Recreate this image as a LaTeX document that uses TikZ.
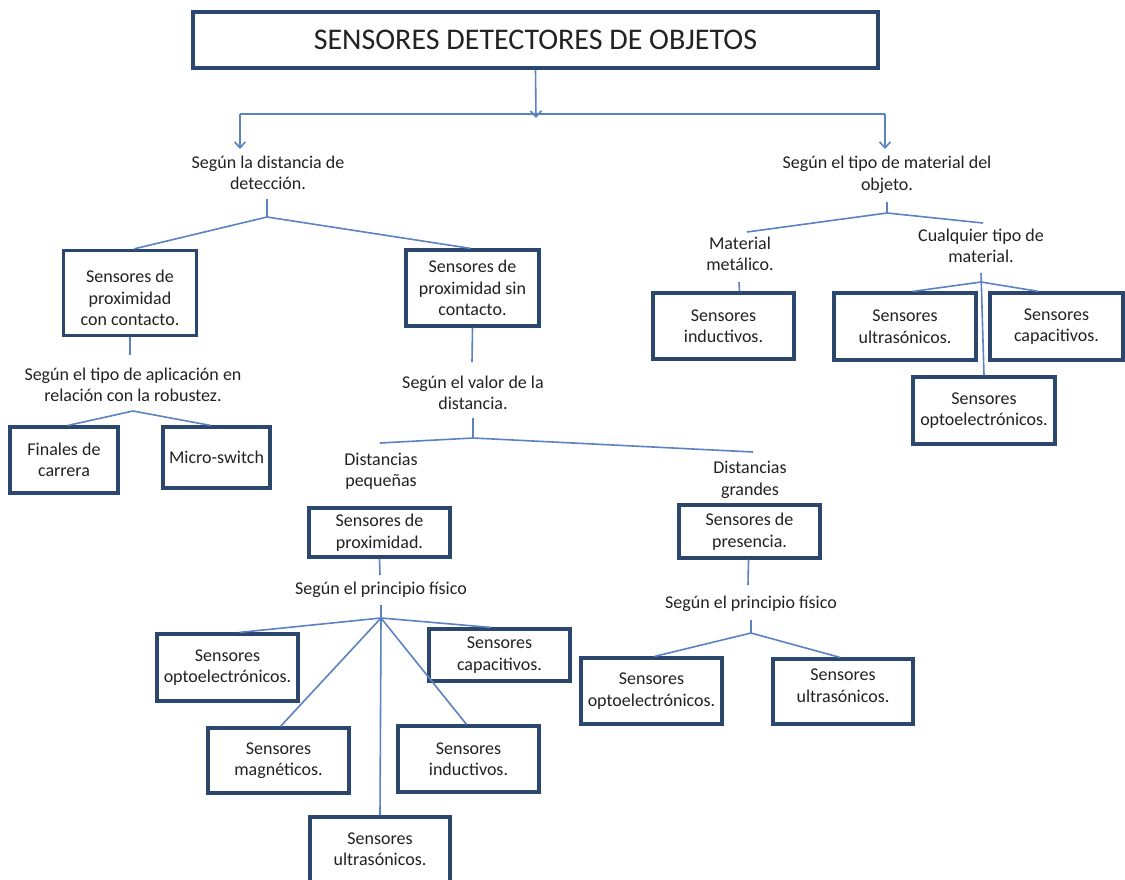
\documentclass[tikz,border=0pt]{standalone}
\usepackage{fontspec}
\setmainfont{Carlito}
\usetikzlibrary{arrows.meta}
\definecolor{boxc}{HTML}{2C476E}
\definecolor{linec}{HTML}{5B82C2}
\definecolor{txtc}{HTML}{222222}
\begin{document}
\begin{tikzpicture}[x=1pt,y=-1pt,
  txt/.style={font=\fontsize{18}{21.5}\selectfont,text=txtc,align=center},
  box/.style={txt,draw=boxc,line width=3.2pt,inner sep=0pt},
  lbl/.style={txt,inner sep=1pt},
  con/.style={draw=linec,line width=1.6pt},
  arr/.style={con,-{Straight Barb[length=6pt,width=11pt,line width=1.6pt]}}]
\fill[white] (0,0) rectangle (1125,879);
\useasboundingbox (0,0) rectangle (1125,879);

% title
\node[box,minimum width=685pt,minimum height=56pt,font=\fontsize{30}{32}\selectfont] (title) at (535.5,40) {SENSORES DETECTORES DE OBJETOS};
\coordinate (hub) at (536,114);
\coordinate (hl) at (240,114);
\coordinate (hr) at (885,114);
\coordinate (al) at (240,149);
\coordinate (ar) at (885,149);
\draw[arr] (title.south) -- ([yshift=-4pt]hub);
\draw[con] (hl) -- (hr);
\draw[arr] (hl) -- (al);
\draw[arr] (hr) -- (ar);

% left branch
\node[lbl] (L1) at (268,173) {Según la distancia de\\detección.};
\node[box,minimum width=133pt,minimum height=85pt,label={[txt,yshift=-5pt]center:Sensores de\\proximidad\\con contacto.}] (A) at (130,293) {};
\node[box,minimum width=133pt,minimum height=76pt] (B) at (472.5,288) {Sensores de\\proximidad sin\\contacto.};
\coordinate (s1) at (267,199);
\coordinate (j1) at (267,217);
\draw[con] (s1) -- (j1);
\draw[con] (j1) -- ([xshift=4pt]A.north);
\draw[con] (j1) -- ([xshift=-2pt]B.north);

\node[lbl] (LA) at (133,385) {Según el tipo de aplicación en\\relación con la robustez.};
\coordinate (sA) at (130,355);
\draw[con] (A.south) -- (sA);
\node[box,minimum width=108pt,minimum height=66pt] (fin) at (64,460) {Finales de\\carrera};
\node[box,minimum width=107pt,minimum height=61pt] (mic) at (216.5,457.5) {Micro-switch};
\coordinate (jA) at (133,411);
\draw[con] (jA) -- ([xshift=4pt]fin.north);
\draw[con] (jA) -- ([xshift=-6pt]mic.north);

\node[lbl] (LB) at (473,393) {Según el valor de la\\distancia.};
\coordinate (sB) at (472,362);
\draw[con] (B.south) -- (sB);
\coordinate (sB2) at (473,418);
\coordinate (jB) at (473,438);
\coordinate (pL) at (380,443);
\coordinate (pR) at (753,452);
\draw[con] (sB2) -- (jB);
\draw[con] (pL) -- (jB) -- (pR);

\node[lbl] (Dp) at (381,471) {Distancias\\pequeñas};
\node[lbl] (Dg) at (750,480) {Distancias\\grandes};

\node[box,minimum width=141pt,minimum height=49pt] (prox) at (379.5,532.5) {Sensores de\\proximidad.};
\coordinate (sP) at (380,575);
\draw[con] (prox.south) -- (sP);
\node[lbl] (Pf1) at (381,590) {Según el principio físico};
\coordinate (sP2) at (381,605);
\coordinate (j3) at (381,618);
\draw[con] (sP2) -- (j3);
\node[box,minimum width=141pt,minimum height=67pt] (op1) at (227.5,667.5) {Sensores\\optoelectrónicos.};
\node[box,minimum width=141pt,minimum height=52pt] (ca1) at (499.5,655) {Sensores\\capacitivos.};
\node[box,minimum width=141pt,minimum height=65pt] (ma1) at (278.5,760.5) {Sensores\\magnéticos.};
\node[box,minimum width=141pt,minimum height=66pt] (in1) at (468.5,759) {Sensores\\inductivos.};
\node[box,minimum width=140pt,minimum height=68pt,label={[txt,yshift=2pt]center:Sensores\\ultrasónicos.}] (ul1) at (380,851) {};
\draw[con] (j3) -- ([xshift=12pt]op1.north);
\draw[con] (j3) -- ([xshift=-9pt]ca1.north);
\draw[con] (j3) -- ([xshift=2pt]ma1.north);
\draw[con] (j3) -- ([xshift=-2pt]in1.north);
\draw[con] (j3) -- (ul1.north);

% presence
\node[box,minimum width=141pt,minimum height=53pt] (pre) at (749.5,531.5) {Sensores de\\presencia.};
\coordinate (sQ) at (748,585);
\draw[con] ([xshift=-1pt]pre.south) -- (sQ);
\node[lbl] (Pf2) at (751,604) {Según el principio físico};
\coordinate (sQ2) at (751,620);
\coordinate (j4) at (751,633);
\draw[con] (sQ2) -- (j4);
\node[box,minimum width=141pt,minimum height=66pt] (op2) at (651.5,691) {Sensores\\optoelectrónicos.};
\node[box,minimum width=140pt,minimum height=65pt,label={[txt,yshift=6pt]center:Sensores\\ultrasónicos.}] (ul2) at (843,691.5) {};
\draw[con] (j4) -- ([xshift=3pt]op2.north);
\draw[con] (j4) -- ([xshift=-3pt]ul2.north);

% right branch
\node[lbl] (R1) at (887,175) {Según el tipo de material del\\objeto.};
\coordinate (sR) at (887,202);
\coordinate (j5) at (887,213);
\draw[con] (sR) -- (j5);
\coordinate (eL) at (747,232);
\coordinate (eR) at (983,223);
\draw[con] (eL) -- (j5) -- (eR);
\node[lbl] (Mm) at (740,254) {Material\\metálico.};
\node[lbl] (Ct) at (981,246) {Cualquier tipo de\\material.};
\node[box,minimum width=141pt,minimum height=66pt] (in2) at (723.5,326) {Sensores\\inductivos.};
\node[box,minimum width=142pt,minimum height=67pt] (ul3) at (905,326.5) {Sensores\\ultrasónicos.};
\node[box,minimum width=133pt,minimum height=67pt] (ca3) at (1056.5,326.5) {Sensores\\capacitivos.};
\node[box,minimum width=142pt,minimum height=67pt] (op3) at (984,410.5) {Sensores\\optoelectrónicos.};
\coordinate (sM) at (739,282);
\draw[con] (sM) -- ([xshift=16pt]in2.north);
\coordinate (sC) at (981,273);
\coordinate (j6) at (981,282);
\draw[con] (sC) -- (op3.north);
\draw[con] (j6) -- ([xshift=8pt]ul3.north);
\draw[con] (j6) -- ([xshift=-18pt]ca3.north);
\end{tikzpicture}
\end{document}
